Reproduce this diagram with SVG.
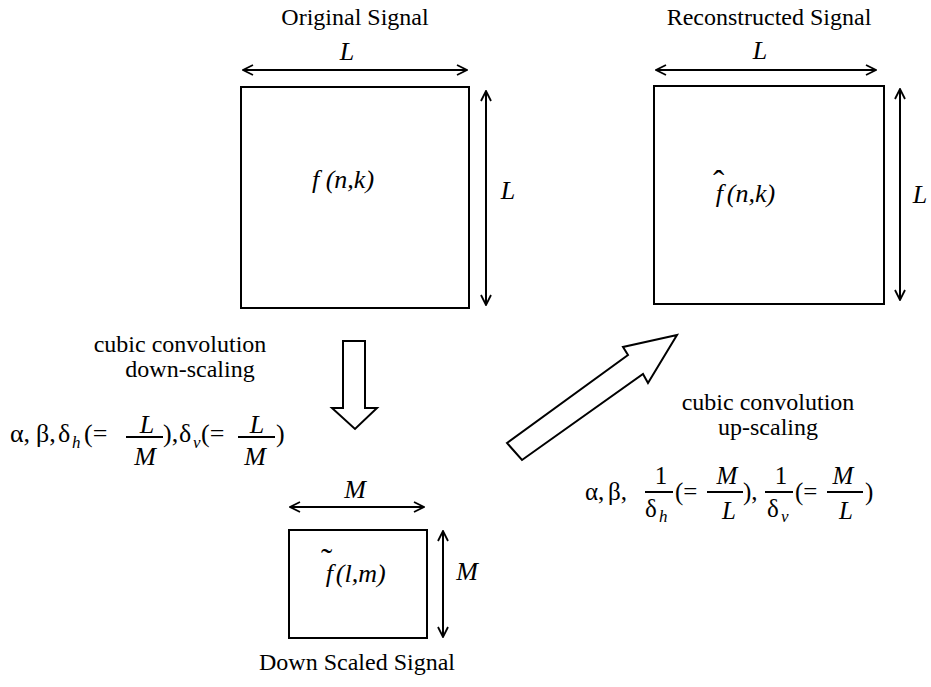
<svg xmlns="http://www.w3.org/2000/svg" width="931" height="687" viewBox="0 0 931 687">
<defs>
<style>
.box{fill:none;stroke:#000;stroke-width:2}
.dim{fill:none;stroke:#000;stroke-width:2;marker-start:url(#ah);marker-end:url(#ah)}
.fat{fill:#fff;stroke:#000;stroke-width:2;stroke-linejoin:miter}
.t{font-family:"Liberation Serif","Times New Roman",serif;font-size:24px;fill:#000}
.m{font-family:"Liberation Serif","Times New Roman",serif;font-size:26px;fill:#000}
.r{font-family:"Liberation Serif","Times New Roman",serif;font-size:25px;fill:#000}
.i{font-style:italic}
.s{font-family:"Liberation Serif","Times New Roman",serif;font-size:17px;font-style:italic;fill:#000}
.acc{font-style:normal;font-size:34px}
</style>
<marker id="ah" viewBox="0 0 12 12" refX="11" refY="6" markerWidth="12" markerHeight="12" markerUnits="userSpaceOnUse" orient="auto-start-reverse">
<path d="M1,1 L11,6 L1,11" fill="none" stroke="#000" stroke-width="1.8"/>
</marker>
</defs>

<g id="original">
<rect class="box" x="241" y="87" width="228" height="221"/>
<text class="t" x="355" y="25" text-anchor="middle">Original Signal</text>
<text class="m i" x="347" y="60" text-anchor="middle">L</text>
<text class="m i" x="508" y="199" text-anchor="middle">L</text>
<text class="m i" x="343" y="188" text-anchor="middle">f (n,k)</text>
</g>

<g id="reconstructed">
<rect class="box" x="654" y="86" width="230" height="218"/>
<text class="t" x="769" y="25" text-anchor="middle">Reconstructed Signal</text>
<text class="m i" x="760" y="59" text-anchor="middle">L</text>
<text class="m i" x="920" y="203" text-anchor="middle">L</text>
<text class="m i" x="713" y="202">f<tspan class="acc" dx="-10" dy="-8">ˆ</tspan><tspan dx="-4" dy="8"> (n,k)</tspan></text>
</g>

<g id="downscaled">
<rect class="box" x="289" y="530" width="138" height="108"/>
<text class="t" x="357" y="670" text-anchor="middle">Down Scaled Signal</text>
<text class="m i" x="355" y="498" text-anchor="middle">M</text>
<text class="m i" x="467" y="580" text-anchor="middle">M</text>
<text class="m i" x="321" y="582">f<tspan class="acc" dx="-12" dy="-10">˜</tspan><tspan dx="-3" dy="10"> (l,m)</tspan></text>
</g>

<g id="connectors">
<line class="dim" x1="243" y1="70" x2="467" y2="70"/>
<line class="dim" x1="486" y1="91" x2="486" y2="305"/>
<line class="dim" x1="656" y1="70" x2="876" y2="70"/>
<line class="dim" x1="900" y1="89" x2="900" y2="300"/>
<line class="dim" x1="290" y1="507" x2="424" y2="507"/>
<line class="dim" x1="443" y1="531" x2="443" y2="637"/>
<polygon class="fat" points="343,341 365,341 365,408 377,408 355,429 332,408 343,408"/>
<polygon class="fat" points="507,443 628,355 623,347 677,335 648,383 643,374 522,460"/>
</g>

<g id="label-down">
<text class="t" x="180" y="352" text-anchor="middle">cubic convolution</text>
<text class="t" x="190" y="377" text-anchor="middle">down-scaling</text>
<text class="m" x="10" y="442">α,</text>
<text class="m" x="36" y="442">β,</text>
<text class="m" x="58" y="442">δ</text>
<text class="s" x="72" y="448">h</text>
<text class="m" x="84" y="442">(=</text>
<text class="m i" x="147" y="433" text-anchor="middle">L</text>
<text class="m i" x="145" y="465" text-anchor="middle">M</text>
<text class="m" x="163" y="442">),</text>
<text class="m" x="179" y="442">δ</text>
<text class="s" x="193" y="448">v</text>
<text class="m" x="201" y="442">(=</text>
<text class="m i" x="257" y="433" text-anchor="middle">L</text>
<text class="m i" x="255" y="465" text-anchor="middle">M</text>
<text class="m" x="276" y="442">)</text>
</g>

<g id="label-up">
<text class="t" x="768" y="410" text-anchor="middle">cubic convolution</text>
<text class="t" x="768" y="435" text-anchor="middle">up-scaling</text>
<text class="r" x="585" y="500">α,</text>
<text class="r" x="608" y="500">β,</text>
<text class="r" x="661" y="484" text-anchor="middle">1</text>
<text class="r" x="645" y="517">δ</text>
<text class="s" x="659" y="522">h</text>
<text class="r" x="675" y="500">(=</text>
<text class="r i" x="727" y="484" text-anchor="middle">M</text>
<text class="r i" x="729" y="519" text-anchor="middle">L</text>
<text class="r" x="743" y="500">),</text>
<text class="r" x="781" y="484" text-anchor="middle">1</text>
<text class="r" x="767" y="517">δ</text>
<text class="s" x="781" y="522">v</text>
<text class="r" x="795" y="500">(=</text>
<text class="r i" x="843" y="484" text-anchor="middle">M</text>
<text class="r i" x="846" y="519" text-anchor="middle">L</text>
<text class="r" x="865" y="500">)</text>
</g>

<g id="fraction-bars" stroke="#000" stroke-width="2" fill="none">
<path d="M126,437 H163"/>
<path d="M238,437 H275"/>
<path d="M645,492 H673"/>
<path d="M707,492 H743"/>
<path d="M765,492 H793"/>
<path d="M827,492 H863"/>
</g>
</svg>
